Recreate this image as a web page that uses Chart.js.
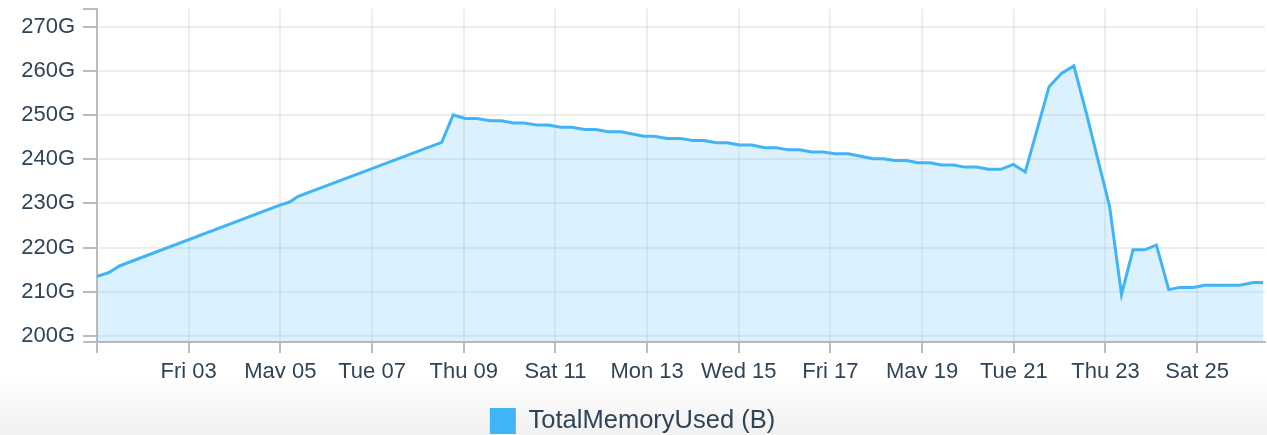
<!DOCTYPE html>
<html>
<head>
<meta charset="utf-8">
<script src="https://cdn.jsdelivr.net/npm/chart.js"></script>
<style>
  html, body { margin: 0; padding: 0; width: 1267px; height: 435px; overflow: hidden; }
  body { background: linear-gradient(to bottom, #ffffff 0px, #ffffff 378px, #f1f1f1 435px); }
  #wrap { position: relative; width: 1267px; height: 450px; }
</style>
</head>
<body>
<div id="wrap"><canvas id="c"></canvas></div>
<script>
// ---- data (x = days since Wed May 01, 00:00; y = memory used in G) ----
const dayOffsets = [0, 0.25, 0.5, 3.96, 4.2, 4.39, 7.52, 7.77,
  8.03, 8.29, 8.58, 8.83, 9.08, 9.31, 9.61, 9.84,
  10.12, 10.36, 10.64, 10.88, 11.15, 11.43,
  11.93, 12.15, 12.44, 12.72, 13.0, 13.24, 13.51, 13.75,
  14.02, 14.28, 14.57, 14.82, 15.08, 15.33, 15.59, 15.84,
  16.10, 16.39,
  16.93, 17.15, 17.40, 17.66, 17.91, 18.17, 18.42, 18.68, 18.93, 19.19, 19.44, 19.72,
  19.99, 20.25,
  20.77, 21.04, 21.31, 21.58,
  22.09, 22.35, 22.60, 22.86, 23.11,
  23.38, 23.62, 23.91, 24.17, 24.93, 25.22, 25.44];
const memoryUsedG = [213.5, 214.3, 215.9, 229.5, 230.3, 231.6, 243.8, 250.0,
  249.2, 249.2, 248.7, 248.7, 248.2, 248.2, 247.7, 247.7,
  247.2, 247.2, 246.7, 246.7, 246.2, 246.2,
  245.2, 245.2, 244.7, 244.7, 244.2, 244.2, 243.7, 243.7,
  243.2, 243.2, 242.6, 242.6, 242.1, 242.1, 241.6, 241.6,
  241.2, 241.2,
  240.1, 240.1, 239.7, 239.7, 239.2, 239.2, 238.7, 238.7, 238.2, 238.2, 237.7, 237.7,
  238.8, 237.1,
  256.4, 259.4, 261.1, 250.5,
  229.3, 209.4, 219.5, 219.5, 220.6,
  210.5, 211.0, 211.0, 211.5, 211.5, 212.1, 212.1];
const seriesLabel = 'TotalMemoryUsed (B)';
const xTickDays = [0, 2, 4, 6, 8, 10, 12, 14, 16, 18, 20, 22, 24];
const xTickLabels = ['', 'Fri 03', 'May 05', 'Tue 07', 'Thu 09', 'Sat 11', 'Mon 13', 'Wed 15', 'Fri 17', 'May 19', 'Tue 21', 'Thu 23', 'Sat 25'];
const yTickValues = [200, 210, 220, 230, 240, 250, 260, 270];
const xRange = [0, 25.48];
const yRange = [198.65, 274.05];

// ---- styles ----
const lineColor = '#40b4f6';
const fillColor = 'rgba(64,180,246,0.19)';
const gridColor = 'rgba(0,0,0,0.065)';
const axisColor = '#bcbcbc';
const textColor = '#2f4459';
const fontFamily = '"Liberation Sans", Arial, Helvetica, sans-serif';

const clipXLabels = {
  id: 'clipXLabels',
  afterLayout(chart) {
    const s = chart.scales.x;
    if (!s || s._clipWrapped) return;
    const orig = s.drawLabels.bind(s);
    s.drawLabels = function (area) {
      const ctx = chart.ctx;
      ctx.save();
      ctx.beginPath();
      ctx.rect(0, 0, chart.width, 378);
      ctx.clip();
      orig(area);
      ctx.restore();
    };
    s._clipWrapped = true;
  }
};

new Chart(document.getElementById('c'), {
  type: 'line',
  data: {
    datasets: [{
      label: seriesLabel,
      data: dayOffsets.map((d, i) => ({ x: d, y: memoryUsedG[i] })),
      borderColor: lineColor,
      backgroundColor: fillColor,
      borderWidth: 3,
      pointRadius: 0,
      tension: 0,
      fill: 'start'
    }]
  },
  options: {
    responsive: true,
    maintainAspectRatio: false,
    animation: false,
    layout: { padding: { left: 0, right: 2, top: 7, bottom: 6 } },
    scales: {
      x: {
        type: 'linear',
        min: xRange[0],
        max: xRange[1],
        afterBuildTicks: (s) => { s.ticks = xTickDays.map(v => ({ value: v })); },
        afterFit: (s) => { s.height = 60; },
        ticks: {
          autoSkip: false,
          maxRotation: 0,
          padding: 6,
          color: textColor,
          font: { family: fontFamily, size: 22 },
          callback: (v) => { const i = xTickDays.indexOf(v); return i >= 0 ? xTickLabels[i] : ''; }
        },
        grid: {
          color: (ctx) => (ctx.tick && ctx.tick.value === xRange[0]) ? 'rgba(0,0,0,0)' : gridColor,
          lineWidth: 2,
          tickLength: 11,
          tickColor: axisColor,
          tickWidth: 2
        },
        border: { color: axisColor, width: 2 }
      },
      y: {
        type: 'linear',
        min: yRange[0],
        max: yRange[1],
        afterBuildTicks: (s) => { s.ticks = [yRange[0], ...yTickValues, yRange[1]].map(v => ({ value: v })); },
        afterFit: (s) => { s.width = 97; },
        ticks: {
          autoSkip: false,
          padding: 8,
          color: textColor,
          font: (ctx) => ({ family: fontFamily, size: (ctx.tick && yTickValues.includes(ctx.tick.value)) ? 22 : 1 }),
          callback: (v) => yTickValues.includes(v) ? v + 'G' : ''
        },
        grid: {
          color: (ctx) => (ctx.tick && yTickValues.includes(ctx.tick.value)) ? gridColor : 'rgba(0,0,0,0)',
          lineWidth: 2,
          tickLength: 14,
          tickColor: axisColor,
          tickWidth: 2
        },
        border: { color: axisColor, width: 2 }
      }
    },
    plugins: {
      tooltip: { enabled: false },
      legend: {
        position: 'bottom',
        labels: {
          boxWidth: 26,
          boxHeight: 26,
          padding: 6,
          color: textColor,
          font: { family: fontFamily, size: 25.5 },
          generateLabels: (chart) => {
            const items = Chart.defaults.plugins.legend.labels.generateLabels(chart);
            items.forEach(it => { it.fillStyle = lineColor; it.strokeStyle = lineColor; it.lineWidth = 0; });
            return items;
          }
        }
      }
    }
  },
  plugins: [clipXLabels]
});
</script>
</body>
</html>
